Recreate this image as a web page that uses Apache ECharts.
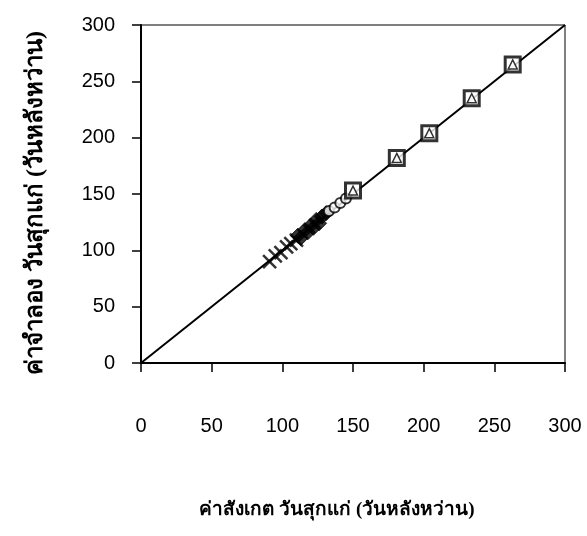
<!DOCTYPE html>
<html>
<head>
<meta charset="utf-8">
<script src="https://cdn.jsdelivr.net/npm/echarts@6/dist/echarts.min.js"></script>
<style>
html,body{margin:0;padding:0;background:#fff;}
#c{width:587px;height:536px;}
</style>
</head>
<body>
<div id="c"></div>
<script>
// Tick labels / axis range
var axisMin = 0, axisMax = 300, axisStep = 50;
var xTitle = 'ค่าสังเกต วันสุกแก่ (วันหลังหว่าน)';
var yTitle = 'ค่าจำลอง วันสุกแก่ (วันหลังหว่าน)';

// Series values (observed x, simulated y)
var sqX = [150, 181, 204, 234, 263];
var sqY = [153, 182, 204, 235, 265];
var triX = [150, 181, 204, 234, 263];
var triY = [153, 182, 204, 235, 265];
var crossX = [91, 95, 99, 103, 106, 110];
var crossY = [90, 95, 98, 103, 106, 109];
var dmX = [111, 113, 116, 118, 120, 122, 124, 126, 128, 131];
var dmY = [113, 111, 118, 116, 122, 120, 127, 124, 130, 133];
var ocX = [133, 137, 141, 145];
var ocY = [135, 138, 142, 146];
var lineX = [0, 300];
var lineY = [0, 300];

function pairs(xs, ys){ return xs.map(function(v,i){ return [v, ys[i]]; }); }

var chart = echarts.init(document.getElementById('c'));
var axisCommon = {
  type: 'value', min: axisMin, max: axisMax, interval: axisStep,
  splitLine: {show: false},
  axisLine: {show: true, onZero: false, lineStyle: {color: '#000', width: 2}},
  axisTick: {show: true, inside: false, length: 9, lineStyle: {color: '#000', width: 1.5}},
  axisLabel: {color: '#000', fontFamily: 'Liberation Sans', fontSize: 20}
};
var xAxis = JSON.parse(JSON.stringify(axisCommon));
xAxis.axisLabel.margin = 53;
var yAxis = JSON.parse(JSON.stringify(axisCommon));
yAxis.axisLabel.margin = 26;

chart.setOption({
  animation: false,
  backgroundColor: '#fff',
  grid: {left: 141, right: 22, top: 25, bottom: 173, show: true, borderColor: '#000', borderWidth: 1},
  xAxis: xAxis,
  yAxis: yAxis,
  graphic: [
    {type: 'text', x: 337, y: 510,
     style: {text: xTitle, font: 'bold 19px serif', fill: '#000', align: 'center', verticalAlign: 'middle'}},
    {type: 'text', x: 36, y: 203, rotation: Math.PI/2,
     style: {text: yTitle, font: 'bold 24px serif', fill: '#000', align: 'center', verticalAlign: 'middle'}}
  ],
  series: [
    {type: 'line', data: pairs(lineX, lineY), symbol: 'none', lineStyle: {color: '#000', width: 2}, z: 1},
    {type: 'scatter', data: pairs(crossX, crossY), symbol: 'path://M0,0L10,10M10,0L0,10', symbolSize: 13,
     itemStyle: {color: 'rgba(0,0,0,0)', borderColor: '#000', borderWidth: 2.5}, z: 3},
    {type: 'scatter', data: pairs(dmX, dmY), symbol: 'diamond', symbolSize: 15,
     itemStyle: {color: '#000', borderColor: '#000', borderWidth: 1}, z: 3},
    {type: 'scatter', data: pairs(ocX, ocY), symbol: 'circle', symbolSize: 10,
     itemStyle: {color: '#fff', borderColor: '#000', borderWidth: 2}, z: 3},
    {type: 'scatter', data: pairs(sqX, sqY), symbol: 'rect', symbolSize: 15,
     itemStyle: {color: '#fff', borderColor: '#000', borderWidth: 3}, z: 4},
    {type: 'scatter', data: pairs(triX, triY), symbol: 'triangle', symbolSize: 9,
     itemStyle: {color: '#fff', borderColor: '#000', borderWidth: 1.5}, z: 5}
  ]
});
</script>
</body>
</html>
